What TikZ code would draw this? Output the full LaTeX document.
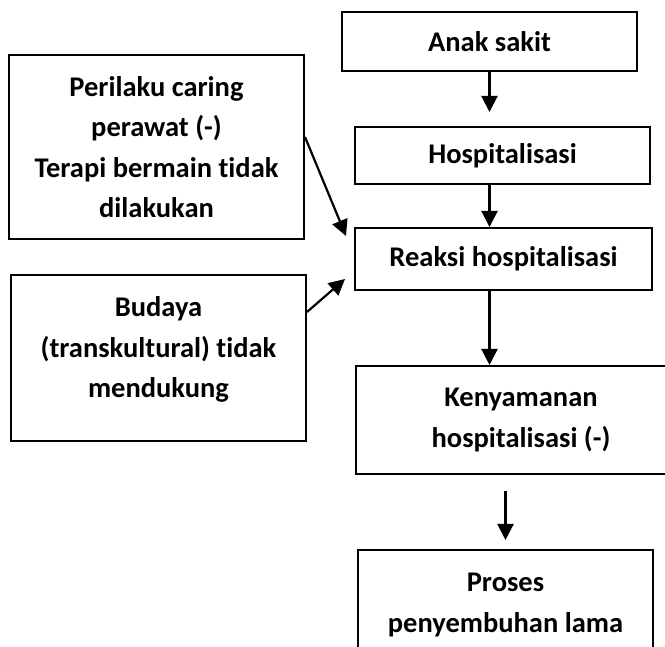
\documentclass[tikz,border=0pt]{standalone}
\usepackage{fontspec}
\setmainfont{Carlito}[Ligatures=NoCommon]
\usetikzlibrary{arrows.meta}

\begin{document}
\begin{tikzpicture}[x=1pt,y=1pt,
    box/.style={draw, line width=2pt, minimum width=295pt, align=center, inner sep=0pt,
        font=\fontsize{28.5}{40.5}\selectfont\bfseries},
    panah/.style={line width=2.2pt, -{Triangle[length=16pt,width=16pt]}}]
    \path[use as bounding box, clip] (0,0) rectangle (665,647);

    \node[box, minimum height=59pt] (anak) at (489.5,605.5) {Anak sakit};
    \node[box, minimum height=57pt] (hosp) at (502.5,491.5) {Hospitalisasi};
    \node[box, minimum height=62pt, minimum width=297pt] (reaksi) at (503.5,388) {Reaksi hospitalisasi};
    \node[box, minimum height=108pt, minimum width=330pt] (nyaman) at (521,227) {Kenyamanan\\hospitalisasi (-)};
    \node[box, minimum height=110pt] (proses) at (505.5,42) {Proses\\penyembuhan lama};

    \node[box, minimum height=184pt] (perilaku) at (156.5,500) {Perilaku caring\\perawat (-)\\Terapi bermain tidak\\dilakukan};
    \node[box, minimum height=166pt] (budaya) at (158.5,289) {\parbox[c][122pt][t]{280pt}{\centering Budaya\\(transkultural) tidak\\mendukung}};

    % alur utama
    \draw[panah, shorten >=14pt] (anak.south) -- (anak.south |- hosp.north);
    \draw[panah] (anak.south |- hosp.south) -- (anak.south |- reaksi.north);
    \draw[panah] (anak.south |- reaksi.south) -- (anak.south |- nyaman.north);
    \draw[panah, shorten <=16pt, shorten >=9pt] (proses.north |- nyaman.south) -- (proses.north);

    % faktor dari kiri
    \draw[panah] ([yshift=10pt]perilaku.east) -- ([xshift=-8pt,yshift=-9pt]reaksi.north west);
    \draw[panah] ([yshift=-38pt]budaya.north east) -- ([xshift=-9pt,yshift=12pt]reaksi.south west);

\end{tikzpicture}
\end{document}
